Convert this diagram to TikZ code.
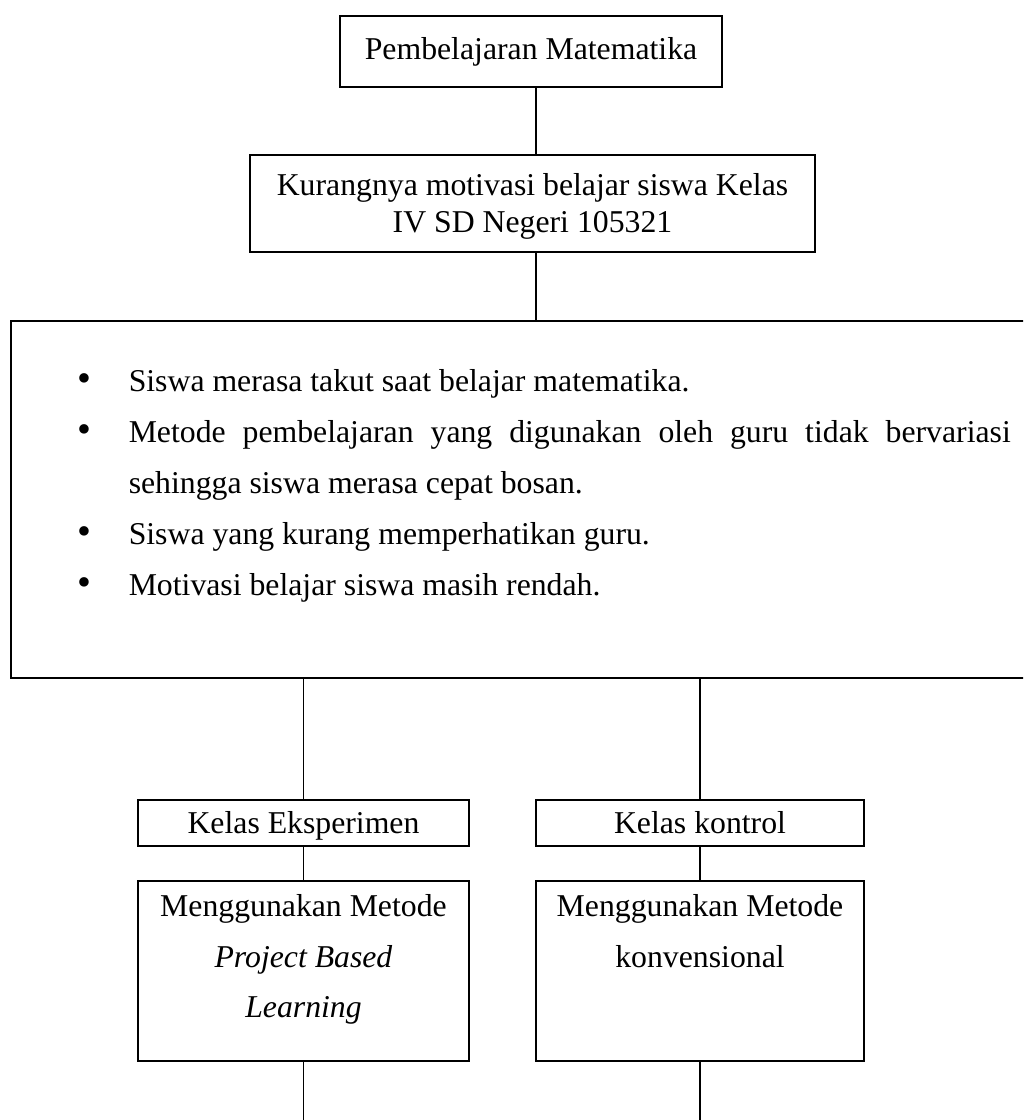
\documentclass[tikz,border=0pt]{standalone}
\usepackage{fontspec}
\setmainfont{Liberation Serif}
\usepackage{tikz}
\usetikzlibrary{positioning}
\newcommand{\butir}{\noindent\llap{\scalebox{1.25}{\textbullet}\hspace{15pt}}}

\begin{document}
\begin{tikzpicture}[x=0.4pt,y=-0.4pt,
    main node/.style={rectangle,draw,line width=0.6pt,inner sep=0pt,font=\fontsize{12.7}{14.8}\selectfont},
    kelas node/.style={main node,minimum height=18.4pt,text height=9.4pt,text depth=1.4pt},
    list node/.style={rectangle,draw,line width=0.6pt,inner ysep=0pt,inner xsep=47.2pt,align=justify,font=\fontsize{12.7}{20.4}\selectfont},
    method node/.style={main node,align=flush center,text height=14.4pt,text depth=57.6pt,anchor=north,font=\fontsize{12.7}{20.2}\selectfont},
    garis/.style={-,line width=0.5pt}]
  \clip (0,0) rectangle (1023,1120);
  \coordinate (axis) at (536,0);
  \coordinate (bottom) at (0,1120);
  % judul dan masalah
  \node[main node,minimum width=152.8pt,minimum height=28.4pt] (judul) at (531,51.5) {Pembelajaran Matematika};
  \node[main node,anchor=north,text width=226pt,align=flush center,text height=16.4pt,text depth=22.4pt] (masalah) at (532.5,154) {Kurangnya motivasi belajar siswa Kelas\\IV SD Negeri 105321};
  \node[list node,anchor=north west,text width=352.8pt,text height=28.4pt,text depth=114.4pt] (identifikasi) at (10,320)
    {\hyphenpenalty=10000\tolerance=9999
     \butir Siswa merasa takut saat belajar matematika.\par
     \butir Metode pembelajaran yang digunakan oleh guru tidak bervariasi\linebreak sehingga siswa merasa cepat bosan.\par
     \butir Siswa yang kurang memperhatikan guru.\par
     \butir Motivasi belajar siswa masih rendah.\par};
  % kelas
  \node[kelas node,minimum width=132.4pt] (eksperimen) at (303.5,823) {Kelas Eksperimen};
  \node[kelas node,minimum width=131.2pt] (kontrol) at (700,823) {Kelas kontrol};
  \node[method node,text width=132.4pt] (pbl) at (303.5,880) {Menggunakan Metode\\\textit{Project Based}\\\textit{Learning}};
  \node[method node,text width=131.2pt] (konvensional) at (700,880) {Menggunakan Metode\\konvensional};
  % garis
  \path[garis] (judul.south -| axis) edge (masalah.north -| axis);
  \path[garis] (masalah.south -| axis) edge (identifikasi.north -| axis);
  \path[garis] (eksperimen.north |- identifikasi.south) edge (eksperimen.north);
  \path[garis] (kontrol.north |- identifikasi.south) edge (kontrol.north);
  \path[garis] (eksperimen.south) edge (pbl.north);
  \path[garis] (kontrol.south) edge (konvensional.north);
  \path[garis] (pbl.south) edge (pbl.south |- bottom);
  \path[garis] (konvensional.south) edge (konvensional.south |- bottom);
\end{tikzpicture}
\end{document}
